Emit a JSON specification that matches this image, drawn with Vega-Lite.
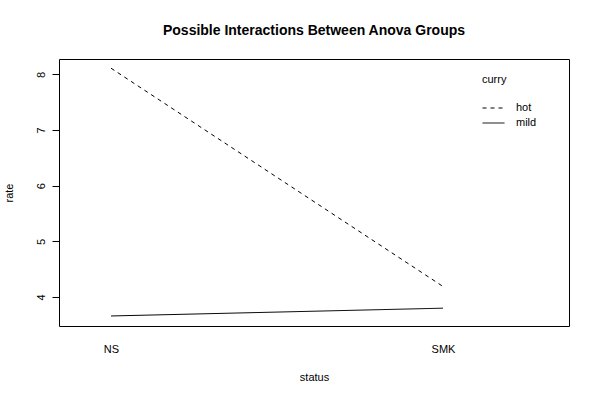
{
  "$schema": "https://vega.github.io/schema/vega-lite/v6.json",
  "width": 510,
  "height": 267,
  "autosize": {"type": "none"},
  "padding": {"left": 59, "top": 59, "right": 30, "bottom": 74},
  "background": "white",
  "title": {
    "text": "Possible Interactions Between Anova Groups",
    "font": "Liberation Sans",
    "fontSize": 14,
    "fontWeight": "bold",
    "color": "black",
    "anchor": "middle",
    "offset": 21
  },
  "config": {
    "view": {"stroke": "black", "strokeWidth": 1},
    "font": "Liberation Sans"
  },
  "data": {
    "values": [
      {"status": "NS", "level": 1, "curry": "hot", "rate": 8.11},
      {"status": "SMK", "level": 2, "curry": "hot", "rate": 4.19},
      {"status": "NS", "level": 1, "curry": "mild", "rate": 3.66},
      {"status": "SMK", "level": 2, "curry": "mild", "rate": 3.8}
    ]
  },
  "mark": {"type": "line", "color": "black", "strokeWidth": 1},
  "encoding": {
    "x": {
      "field": "level",
      "type": "quantitative",
      "scale": {"domain": [0.8434, 2.3795], "nice": false, "zero": false},
      "axis": {
        "title": "status",
        "values": [1, 2],
        "labelExpr": "datum.value == 1 ? 'NS' : 'SMK'",
        "domain": false,
        "ticks": false,
        "grid": false,
        "labelFont": "Liberation Sans",
        "labelFontSize": 11,
        "labelColor": "black",
        "labelPadding": 17,
        "titleFont": "Liberation Sans",
        "titleFontSize": 11,
        "titleFontWeight": "normal",
        "titleColor": "black",
        "titlePadding": 17
      }
    },
    "y": {
      "field": "rate",
      "type": "quantitative",
      "scale": {"domain": [3.48, 8.275], "nice": false, "zero": false},
      "axis": {
        "title": "rate",
        "values": [4, 5, 6, 7, 8],
        "domain": false,
        "grid": false,
        "tickColor": "black",
        "tickSize": 7,
        "labelAngle": -90,
        "labelAlign": "center",
        "labelBaseline": "bottom",
        "labelPadding": 6,
        "labelFont": "Liberation Sans",
        "labelFontSize": 11,
        "labelColor": "black",
        "titleFont": "Liberation Sans",
        "titleFontSize": 11,
        "titleFontWeight": "normal",
        "titleColor": "black",
        "titlePadding": 21
      }
    },
    "strokeDash": {
      "field": "curry",
      "type": "nominal",
      "scale": {"domain": ["hot", "mild"], "range": [[4, 4], [1, 0]]},
      "legend": {
        "orient": "none",
        "legendX": 423,
        "legendY": 15,
        "title": "curry",
        "titleFont": "Liberation Sans",
        "titleFontSize": 11,
        "titleFontWeight": "normal",
        "titleColor": "black",
        "titlePadding": 17,
        "symbolType": "M-1,0H3",
        "symbolSize": 121,
        "symbolStrokeColor": "black",
        "symbolStrokeWidth": 1,
        "labelFont": "Liberation Sans",
        "labelFontSize": 11,
        "labelColor": "black",
        "labelOffset": 22,
        "rowPadding": 4,
        "padding": 0
      }
    }
  }
}
